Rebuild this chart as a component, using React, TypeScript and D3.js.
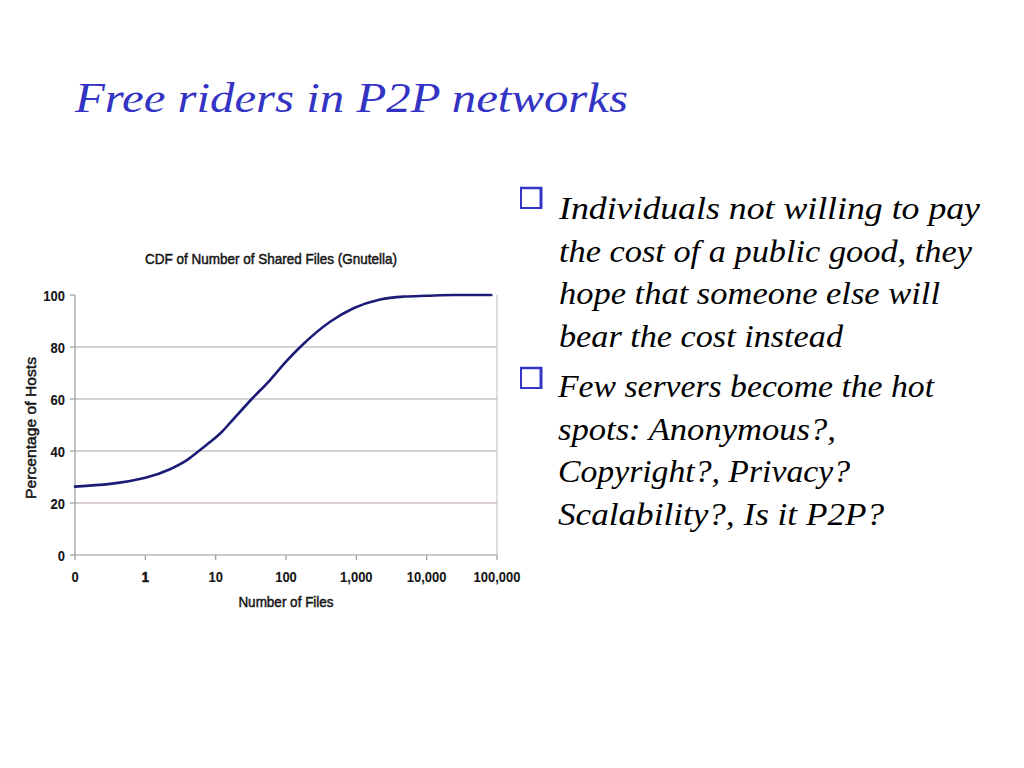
import React from "react";
import * as d3 from "d3";

// ---- data ----
const filesX = [0.1, 1, 2.24, 3.9, 6, 9.3, 12.2, 16, 32.6, 59.4, 100, 158, 424, 910, 2180, 4800, 10000, 24500, 83000];
const hostsPct = [26.3, 29.7, 33.0, 36.5, 40.4, 44.5, 47.3, 50.8, 60.0, 67.3, 74.4, 79.9, 89.7, 94.9, 98.3, 99.4, 99.7, 100, 100];
const xTickValues = [0.1, 1, 10, 100, 1000, 10000, 100000];
const xTickLabels = ["0", "1", "10", "100", "1,000", "10,000", "100,000"];
const yTickValues = [0, 20, 40, 60, 80, 100];
const gridValues = [20, 40, 60, 80];

const chartTitle = "CDF of Number of Shared Files (Gnutella)";
const xTitle = "Number of Files";
const yTitle = "Percentage of Hosts";
const slideTitle = "Free riders in P2P networks";
const bullet1 = ["Individuals not willing to pay", "the cost of a public good, they", "hope that someone else will", "bear the cost instead"];
const bullet2 = ["Few servers become the hot", "spots: Anonymous?,", "Copyright?, Privacy?", "Scalability?, Is it P2P?"];

// layout (text widths measured from reference)
const bullet1Widths = [421, 413, 381, 284];
const bullet2Widths = [376, 278, 292, 326];

export default function App() {
  const left = 75, right = 497, top = 295, bottom = 555;
  const x = d3.scaleLog().domain([0.1, 100000]).range([left, right]);
  const y = d3.scaleLinear().domain([0, 100]).range([bottom, top]);
  const pts = filesX.map((v, i) => [v, hostsPct[i]] as [number, number]);
  const line = d3.line<[number, number]>().x(d => x(d[0])).y(d => y(d[1])).curve(d3.curveMonotoneX);
  const sans = "'Liberation Sans', Arial, sans-serif";
  const serif = "'Liberation Serif', 'Times New Roman', serif";
  const lineH = 42.6;
  const ink = "#151515";

  const T = ({ tx, ty, anchor, size, weight, sw, children, rot, len, sy }: any) => (
    <text transform={`translate(${tx},${ty})${rot ? " rotate(-90)" : ""} scale(1,${sy || 1.12})`} textAnchor={anchor}
      fontFamily={sans} fontSize={size} fontWeight={weight || "normal"} fill={ink} stroke={ink} strokeWidth={sw}
      textLength={len} lengthAdjust={len ? "spacingAndGlyphs" : undefined}>{children}</text>
  );

  const Box = ({ yy }: { yy: number }) => (
    <g>
      <rect x={521} y={yy} width={20} height={20} fill="#fff" stroke="#3535c8" strokeWidth={2} />
      <line x1={541} y1={yy - 1} x2={541} y2={yy + 21} stroke="#3535c8" strokeWidth={3} />
      <line x1={520} y1={yy} x2={542} y2={yy} stroke="#3535c8" strokeWidth={2.5} />
    </g>
  );

  return (
    <svg width={1024} height={768} style={{ position: "absolute", left: 0, top: 0, background: "#fff" }}>
      <rect width={1024} height={768} fill="#fff" />
      <text x={75} y={112} fontFamily={serif} fontStyle="italic" fontSize={42} fill="#3333c4"
        textLength={553} lengthAdjust="spacingAndGlyphs">{slideTitle}</text>

      {/* chart */}
      <T tx={271} ty={264} anchor="middle" size={13.5} sw={0.45}>{chartTitle}</T>
      {gridValues.map(v => (
        <line key={v} x1={left} x2={right} y1={y(v)} y2={y(v)} stroke={v === 20 ? "#b89a9e" : "#a8a8a8"} strokeWidth={1.2} />
      ))}
      <line x1={right} x2={right} y1={top} y2={bottom} stroke="#bdbdbd" strokeWidth={1} />
      <line x1={left} x2={left} y1={top} y2={bottom} stroke="#9a9a9a" strokeWidth={1.2} />
      <line x1={left} x2={right} y1={bottom} y2={bottom} stroke="#9a9a9a" strokeWidth={1.2} />
      {yTickValues.map(v => (
        <g key={v}>
          <line x1={left - 5} x2={left} y1={y(v)} y2={y(v)} stroke="#9a9a9a" strokeWidth={1.2} />
          <T tx={65} ty={y(v) + 5.5} anchor="end" size={13} weight="bold" sw={0.1} sy={1.18}>{v}</T>
        </g>
      ))}
      {xTickValues.map((v, i) => (
        <g key={v}>
          <line x1={x(v)} x2={x(v)} y1={bottom} y2={bottom + 5} stroke="#9a9a9a" strokeWidth={1.2} />
          <T tx={x(v)} ty={582} anchor="middle" size={13} weight="bold" sw={i === 1 ? 0.6 : 0.1} sy={1.18}>{xTickLabels[i]}</T>
        </g>
      ))}
      <T tx={286} ty={607} anchor="middle" size={13.5} sw={0.45}>{xTitle}</T>
      <T tx={36} ty={428} rot anchor="middle" size={13.5} sw={0.45} len={142}>{yTitle}</T>
      <path d={line(pts) || ""} fill="none" stroke="#1c1c78" strokeWidth={2.6} strokeLinejoin="round" strokeLinecap="round" />

      {/* bullets */}
      <Box yy={188} />
      {bullet1.map((t, i) => (
        <text key={t} x={559} y={219 + i * lineH} fontFamily={serif} fontStyle="italic" fontSize={31} fill="#000"
          textLength={bullet1Widths[i]} lengthAdjust="spacingAndGlyphs">{t}</text>
      ))}
      <Box yy={368} />
      {bullet2.map((t, i) => (
        <text key={t} x={558} y={397 + i * lineH} fontFamily={serif} fontStyle="italic" fontSize={31} fill="#000"
          textLength={bullet2Widths[i]} lengthAdjust="spacingAndGlyphs">{t}</text>
      ))}
    </svg>
  );
}
